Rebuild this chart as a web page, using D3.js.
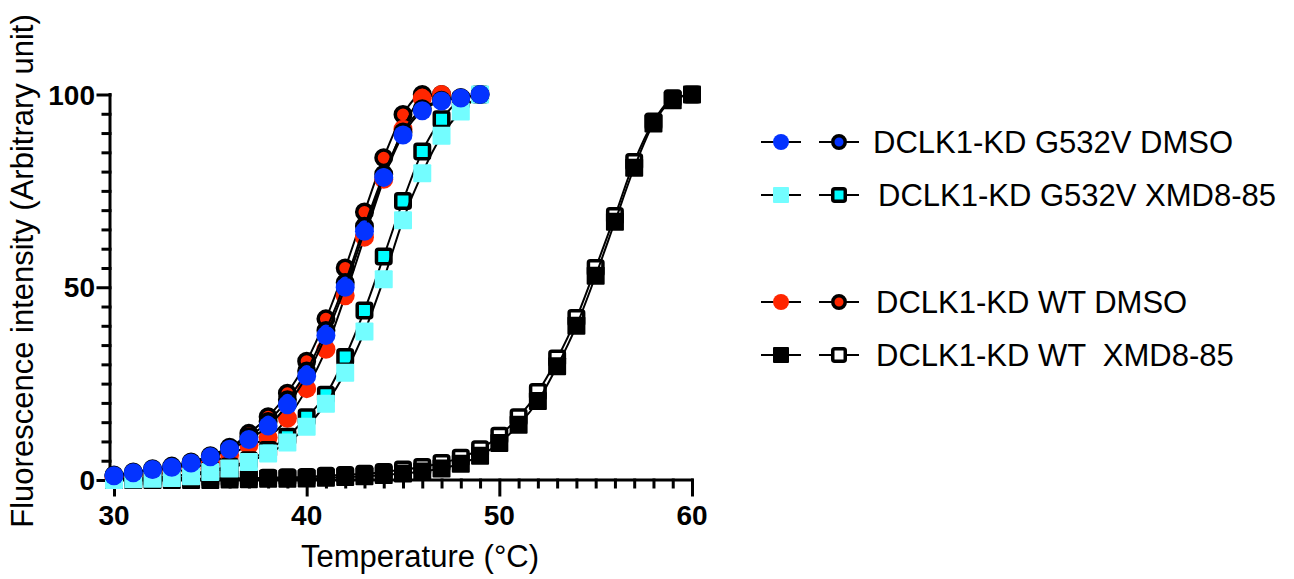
<!DOCTYPE html>
<html>
<head>
<meta charset="utf-8">
<script src="https://cdn.jsdelivr.net/npm/d3@7"></script>
<style>
  body { margin: 0; background: #fff; }
  text { font-family: "Liberation Sans", Arial, Helvetica, sans-serif; white-space: pre; }
</style>
</head>
<body>
<svg id="chart" width="1294" height="579"></svg>
<script>
// Thermal shift curves
var temps = d3.range(30, 61)   // 30..60 °C, 1° steps

var g532vDmso1 = [1.1, 1.9, 2.7, 3.3, 4.4, 6, 8, 10.5, 14, 19.5, 27, 37.5, 50, 64.5, 78.5, 89.5, 95.8, 98.3, 99.1, 100]
var g532vDmso2 = [1.3, 2.1, 2.9, 3.6, 4.7, 6.3, 8.5, 11.2, 15.2, 20.8, 28.3, 38.8, 51.2, 65.8, 79.3, 90.3, 96.3, 98.5, 99.2, 100]
var g532vXmd1  = [0, 0.2, 0.3, 0.5, 1, 2.1, 3, 4.7, 6.9, 9.7, 13.8, 19.8, 27.8, 38.5, 52.1, 67.4, 79.6, 89.3, 95.6, 100]
var g532vXmd2  = [0.2, 0.4, 0.6, 1, 1.6, 2.5, 3.5, 5.1, 7.8, 11.2, 16.3, 22.1, 31.9, 44, 58, 72.4, 85.2, 93.6, 98.5, 100]
var wtDmso1    = [0.5, 1, 1.5, 2, 3, 4.5, 6.5, 9, 11, 16, 23.7, 33.9, 47.8, 63, 78, 91, 99, 100]
var wtDmso2    = [1, 1.5, 2.2, 3, 4, 5.6, 8.2, 12.1, 16.4, 22.5, 30.8, 41.8, 55, 69.5, 83.6, 94.8, 100, 100]
var wtXmd1     = [0, 0, 0, 0, 0, 0, 0.1, 0.2, 0.3, 0.3, 0.4, 0.6, 0.8, 1, 1.3, 1.7, 2.2, 3, 4.2, 6.3, 9.6, 14.3, 20.5, 29.5, 40, 53, 67, 81, 92.5, 98.5, 100]
var wtXmd2     = [0.2, 0.2, 0.3, 0.3, 0.3, 0.4, 0.4, 0.5, 0.6, 0.7, 0.8, 1.1, 1.3, 1.6, 2.1, 2.7, 3.4, 4.4, 5.8, 8, 11.5, 16.3, 22.8, 31.5, 42, 55, 68.5, 82.5, 93, 99, 100]

var legendLabels = ['DCLK1-KD G532V DMSO', 'DCLK1-KD G532V XMD8-85', 'DCLK1-KD WT DMSO', 'DCLK1-KD WT  XMD8-85']
var xTicks = [30, 40, 50, 60]
var yTicks = [0, 50, 100]

var BLUE = '#0433ff', RED = '#ff2600', CYAN = '#00fdff', LIGHTCYAN = '#73fdff'

// draw order matters: later sets sit on top
var sets = [
  { values: wtXmd2,     shape: 'square', fill: '#fff',    stroke: '#000' },
  { values: wtXmd1,     shape: 'square', fill: '#000',    stroke: null },
  { values: wtDmso2,    shape: 'circle', fill: RED,       stroke: '#000' },
  { values: wtDmso1,    shape: 'circle', fill: RED,       stroke: null },
  { values: g532vXmd2,  shape: 'square', fill: CYAN,      stroke: '#000' },
  { values: g532vXmd1,  shape: 'square', fill: LIGHTCYAN, stroke: null },
  { values: g532vDmso2, shape: 'circle', fill: BLUE,      stroke: '#000' },
  { values: g532vDmso1, shape: 'circle', fill: BLUE,      stroke: null }
]

var svg = d3.select('#chart')
var x = d3.scaleLinear().domain([30, 60]).range([114, 692])
var y = d3.scaleLinear().domain([0, 100]).range([480, 94.5])
var axisX = 110

// x axis
var xAxis = svg.append('g').attr('transform', 'translate(0,' + y(0) + ')')
  .call(d3.axisBottom(x).tickValues(d3.range(30, 61)).tickSize(7).tickFormat(''))
xAxis.select('.domain').attr('d', 'M' + axisX + ',0H' + x(60))
xAxis.selectAll('.tick line').filter(function(d) { return xTicks.indexOf(d) >= 0 }).attr('y2', 15)
xAxis.selectAll('.lbl').data(xTicks).enter().append('text')
  .attr('x', function(d) { return x(d) }).attr('y', 45)
  .attr('text-anchor', 'middle').attr('font-size', 28).attr('font-weight', 'bold')
  .attr('fill', '#000')
  .text(function(d) { return d })

// y axis
var yAxis = svg.append('g').attr('transform', 'translate(' + axisX + ',0)')
  .call(d3.axisLeft(y).tickValues(d3.range(0, 101, 5)).tickSize(7).tickFormat(''))
yAxis.select('.domain').attr('d', 'M0,' + y(100) + 'V' + y(0))
yAxis.selectAll('.tick line').filter(function(d) { return yTicks.indexOf(d) >= 0 }).attr('x2', -12)
yAxis.selectAll('.lbl').data(yTicks).enter().append('text')
  .attr('x', -15).attr('y', function(d) { return y(d) + 10 })
  .attr('text-anchor', 'end').attr('font-size', 28).attr('font-weight', 'bold')
  .attr('fill', '#000')
  .text(function(d) { return d })

svg.selectAll('.domain, .tick line').attr('stroke', '#000').attr('stroke-width', 3)
  .attr('stroke-linecap', 'square')

// titles
svg.append('text').attr('x', 420).attr('y', 567).attr('text-anchor', 'middle')
  .attr('font-size', 31).text('Temperature (°C)')
svg.append('text').attr('transform', 'translate(33,271) rotate(-90)').attr('text-anchor', 'middle')
  .attr('font-size', 31).text('Fluorescence intensity (Arbitrary unit)')

var line = d3.line()
  .x(function(d, i) { return x(temps[i]) })
  .y(function(d) { return y(d) })
  .curve(d3.curveMonotoneX)

var drawSymbol = function(sel, s, size, sw) {
  sw = s.stroke ? sw : 0
  if (s.shape === 'circle') {
    sel.append('circle').attr('r', size / 2 - sw / 2)
  } else {
    var h = size / 2 - sw / 2
    sel.append('rect').attr('x', -h).attr('y', -h).attr('width', 2 * h).attr('height', 2 * h)
      .attr('rx', s.stroke ? 2 : 1)
  }
  sel.select(':last-child').attr('fill', s.fill)
    .attr('stroke', s.stroke || 'none').attr('stroke-width', sw)
}

var plot = svg.append('g')
sets.forEach(function(s) {
  var grp = plot.append('g')
  grp.append('path').attr('d', line(s.values))
    .attr('fill', 'none').attr('stroke', '#000').attr('stroke-width', 2)
  grp.selectAll('g.pt').data(s.values).enter().append('g')
    .attr('class', 'pt')
    .attr('transform', function(d, i) { return 'translate(' + x(temps[i]) + ',' + y(d) + ')' })
    .each(function() { drawSymbol(d3.select(this), s, s.shape === 'circle' ? 19 : 18, 3.5) })
})

// legend: two symbols per row (plain set, bordered set)
var legendRows = [
  { y: 142, text: 873, a: sets[7], b: sets[6] },
  { y: 195, text: 878, a: sets[5], b: sets[4] },
  { y: 302, text: 876, a: sets[3], b: sets[2] },
  { y: 355, text: 876, a: sets[1], b: sets[0] }
]
var legend = svg.append('g')
legendRows.forEach(function(r, i) {
  var row = legend.append('g').attr('transform', 'translate(0,' + r.y + ')')
  ;[[781, r.a], [839, r.b]].forEach(function(p) {
    row.append('line').attr('x1', p[0] - 20).attr('x2', p[0] + 20)
      .attr('stroke', '#000').attr('stroke-width', 2)
    var sym = row.append('g').attr('transform', 'translate(' + p[0] + ',0)')
    drawSymbol(sym, p[1], 16, 3.5)
  })
  row.append('text').attr('x', r.text).attr('y', 11).attr('font-size', 31).text(legendLabels[i])
})
</script>
</body>
</html>
